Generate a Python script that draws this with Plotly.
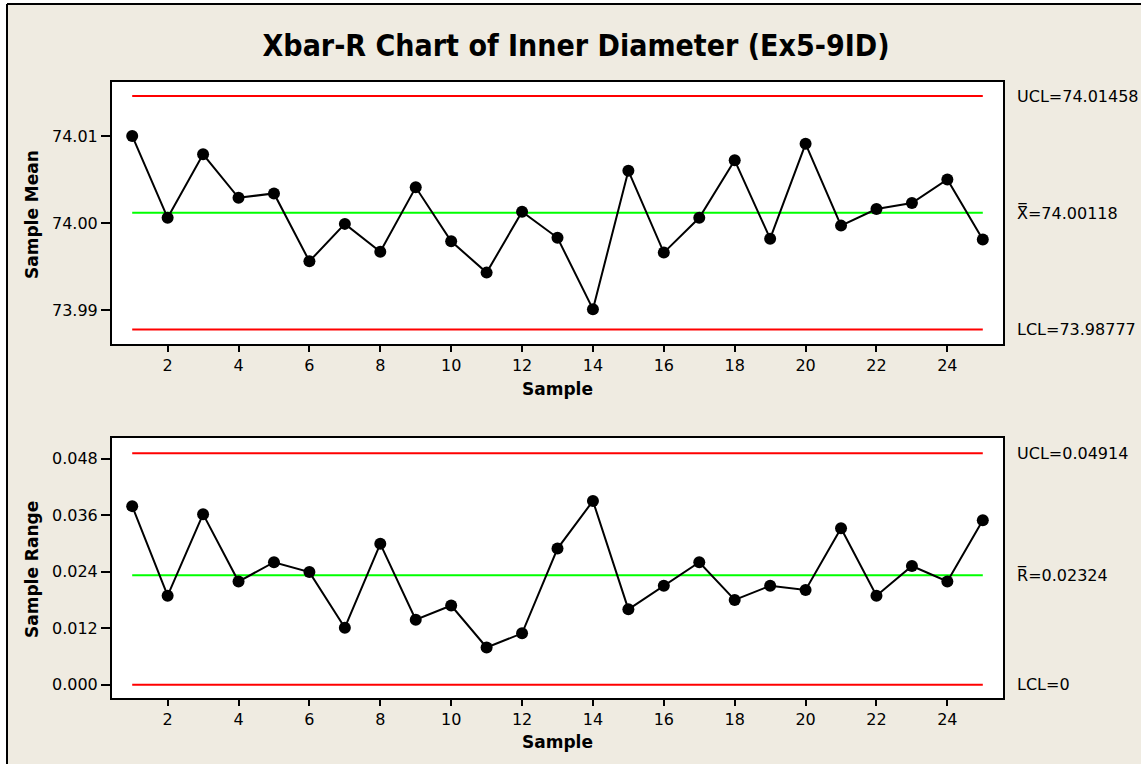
import plotly.graph_objects as go

# ---- data ----
samples = list(range(1, 26))
sample_means = [74.0100, 74.0006, 74.0079, 74.0029, 74.0034, 73.9956, 73.9999, 73.9967,
                74.0041, 73.9979, 73.9943, 74.0013, 73.9983, 73.9901, 74.0060, 73.9966,
                74.0006, 74.0072, 73.9982, 74.0091, 73.9997, 74.0016, 74.0023, 74.0050,
                73.9981]
sample_ranges = [0.0379, 0.0189, 0.0362, 0.0219, 0.0260, 0.0239, 0.0121, 0.0299,
                 0.0138, 0.0168, 0.0079, 0.0109, 0.0289, 0.0390, 0.0160, 0.0210,
                 0.0260, 0.0180, 0.0210, 0.0201, 0.0332, 0.0189, 0.0252, 0.0219,
                 0.0349]
xbar_limits = {"UCL": 74.01458, "CL": 74.00118, "LCL": 73.98777}
r_limits = {"UCL": 0.04914, "CL": 0.02324, "LCL": 0.0}
xbar_ticks = [73.99, 74.00, 74.01]
r_ticks = [0.000, 0.012, 0.024, 0.036, 0.048]
x_ticks = list(range(2, 26, 2))

W, H = 1141, 764
FONT = "DejaVu Sans"
BEIGE = "#EFEBE1"

fig = go.Figure()

def add_panel(yvals, limits, xa, ya):
    x_ends = [samples[0], samples[-1]]
    for key, col in (("UCL", "#FF0000"), ("CL", "#00FF00"), ("LCL", "#FF0000")):
        fig.add_trace(go.Scatter(x=x_ends, y=[limits[key]] * 2, mode="lines",
                                 line=dict(color=col, width=2), xaxis=xa, yaxis=ya,
                                 showlegend=False, hoverinfo="skip"))
    fig.add_trace(go.Scatter(x=samples, y=yvals, mode="lines+markers",
                             line=dict(color="black", width=2),
                             marker=dict(color="black", size=12),
                             xaxis=xa, yaxis=ya, showlegend=False))

add_panel(sample_means, xbar_limits, "x", "y")
add_panel(sample_ranges, r_limits, "x2", "y2")

xdom = [112 / W, 1003 / W]
top_dom = [1 - 344 / H, 1 - 82 / H]
bot_dom = [1 - 698 / H, 1 - 438 / H]

axis_common = dict(showline=True, linecolor="black", linewidth=2, mirror=True,
                   showgrid=False, zeroline=False, ticks="outside", tickcolor="black",
                   tickwidth=1.5, tickfont=dict(family=FONT, size=16, color="black"))

fig.update_layout(
    width=W, height=H, autosize=False,
    margin=dict(l=0, r=0, t=0, b=0),
    paper_bgcolor=BEIGE, plot_bgcolor="white",
    xaxis=dict(domain=xdom, anchor="y", range=[0.43, 25.57], tickvals=x_ticks,
               ticklen=6, **axis_common),
    yaxis=dict(domain=top_dom, anchor="x", range=[73.9861, 74.0162], tickvals=xbar_ticks,
               tickformat=".2f", ticklen=9, **axis_common),
    xaxis2=dict(domain=xdom, anchor="y2", range=[0.43, 25.57], tickvals=x_ticks,
                ticklen=6, **axis_common),
    yaxis2=dict(domain=bot_dom, anchor="x2", range=[-0.00282, 0.05236], tickvals=r_ticks,
                tickformat=".3f", ticklen=9, **axis_common),
    title=dict(text="Xbar-R Chart of Inner Diameter (Ex5-9ID)", x=576 / W, xanchor="center",
               y=1 - 45 / H, yanchor="middle",
               font=dict(family="DejaVu Sans Condensed", size=30, color="black", weight="bold")),
    shapes=[
        dict(type="rect", xref="paper", yref="paper", x0=0, x1=7 / W, y0=0, y1=1,
             fillcolor="white", line=dict(width=0), layer="below"),
        dict(type="rect", xref="paper", yref="paper", x0=0, x1=1, y0=1 - 4 / H, y1=1,
             fillcolor="white", line=dict(width=0), layer="below"),
        dict(type="line", xref="paper", yref="paper", x0=7 / W, x1=1, y0=1 - 4 / H, y1=1 - 4 / H,
             line=dict(color="black", width=2), layer="below"),
        dict(type="line", xref="paper", yref="paper", x0=7 / W, x1=7 / W, y0=0, y1=1 - 4 / H,
             line=dict(color="black", width=2), layer="below"),
    ],
)

lab_font = dict(family=FONT, size=16, color="black")
ann = []
def limit_labels(limits, yref, center_text, ucl_fmt, lcl_fmt):
    for key, txt in (("UCL", "UCL=" + ucl_fmt), ("CL", center_text), ("LCL", "LCL=" + lcl_fmt)):
        ann.append(dict(xref="paper", yref=yref, x=1015 / W, y=limits[key], xanchor="left",
                        yanchor="middle", showarrow=False, text=txt, font=lab_font))

limit_labels(xbar_limits, "y", "X\u033F=%.5f" % xbar_limits["CL"],
             "%.5f" % xbar_limits["UCL"], "%.5f" % xbar_limits["LCL"])
limit_labels(r_limits, "y2", "R\u0305=%.5f" % r_limits["CL"],
             "%.5f" % r_limits["UCL"], "0")

title_font = dict(family=FONT, size=17, color="black", weight="bold")
ann.append(dict(xref="paper", yref="paper", x=32 / W, y=1 - 215 / H, textangle=-90,
                xanchor="center", yanchor="middle",
                showarrow=False, text="Sample Mean", font=title_font))
ann.append(dict(xref="paper", yref="paper", x=32 / W, y=1 - 570 / H, textangle=-90,
                xanchor="center", yanchor="middle",
                showarrow=False, text="Sample Range", font=title_font))
ann.append(dict(xref="paper", yref="paper", x=0.5 * (xdom[0] + xdom[1]), y=1 - 389 / H,
                xanchor="center", yanchor="middle",
                showarrow=False, text="Sample", font=title_font))
ann.append(dict(xref="paper", yref="paper", x=0.5 * (xdom[0] + xdom[1]), y=1 - 742 / H,
                xanchor="center", yanchor="middle",
                showarrow=False, text="Sample", font=title_font))
fig.update_layout(annotations=ann)

fig.write_html("out.html")
